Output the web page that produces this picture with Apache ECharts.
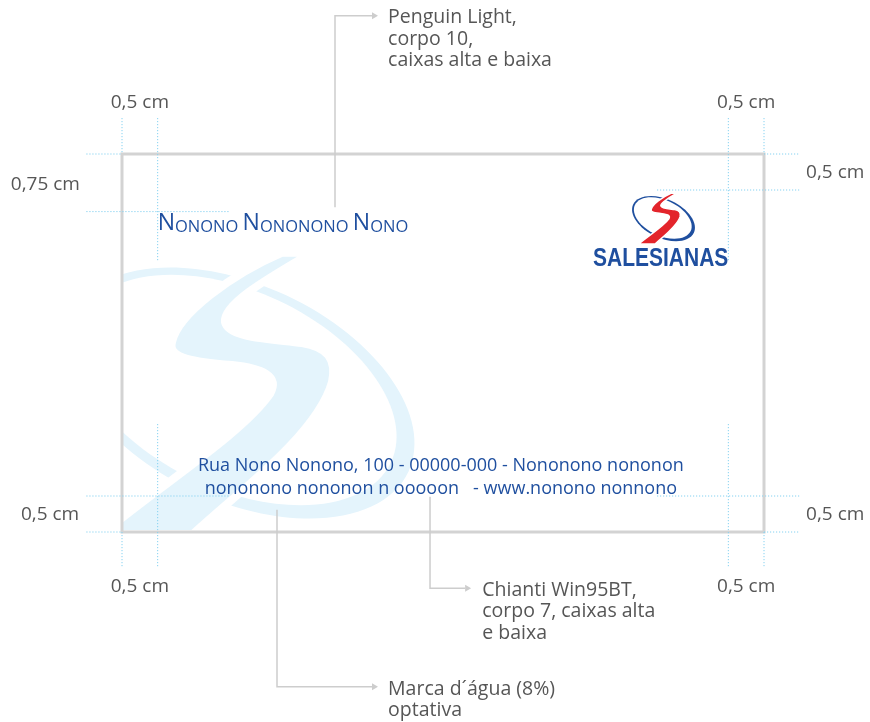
<!DOCTYPE html>
<html><head><meta charset="utf-8">
<script src="https://cdn.jsdelivr.net/npm/echarts/dist/echarts.min.js"></script>
<style>html,body{margin:0;padding:0;background:#fff}#main{width:870px;height:722px}</style>
</head><body><div id="main"></div><script>
// ---- content (values of the spec sheet) ----
const cardCm = [9, 5.25];                 // card width / height in cm
const sideMarginCm = 0.5;                 // side / bottom safety margins
const titleTopCm = 0.8;                   // guide of the name line
const logoTopCm = 0.5;                    // guide of the logo top
const guideExtCm = 0.5;                   // how far the guides run out of the card
const dimLabels = ['0,5 cm', '0,5 cm', '0,75 cm', '0,5 cm', '0,5 cm', '0,5 cm', '0,5 cm', '0,5 cm'];
const noteLabels = [
  'Penguin Light,\ncorpo 10,\ncaixas alta e baixa',
  'Chianti Win95BT,\ncorpo 7, caixas alta\ne baixa',
  'Marca d\u00b4\u00e1gua (8%)\noptativa'
];
const titleWords = ['Nonono', 'Nononono', 'Nono'];
const addressLines = [
  'Rua Nono Nonono, 100 - 00000-000 - Nononono nononon',
  'nononono nononon n ooooon   - www.nonono nonnono'
];
const logoName = 'SALESIANAS';

// ---- layout ----
const kx = 642 / 9, ky = 72;              // reference px per cm
const FONT = 'Open Sans';
const GREY = '#565656', BLUE = '#1f4f9f', RED = '#e3242b';
const WATER = '#e4f4fc', DOT = '#86d2f1', LEAD = '#cdcdcd';
const S_PATH = 'M41.7,-142.3 L71.7,-142.3 C32,-119 -18,-91 -15,-73 C-12,-57 32,-56 62,-52 C87,-48 97,-36 92,-13 C77,39 2,94 -47,139 L-138,139 C-78,89 2,39 30,-1 C40,-19 22,-27 -8,-30 C-43,-33 -73,-36 -68,-53 C-62,-81 -8,-121 41.7,-142.3 Z';

function emblem(pos, s, ringColor, sColor) {
  const rot = -25 * Math.PI / 180;
  return {
    type: 'group', x: pos[0], y: pos[1], scaleX: s, scaleY: s,
    children: [
      { type: 'ellipse', x: 0, y: -2, rotation: rot, shape: { cx: 0, cy: 0, rx: 186, ry: 108 }, style: { fill: ringColor } },
      { type: 'ellipse', x: -4, y: -5, rotation: rot, shape: { cx: 0, cy: 0, rx: 171, ry: 99 }, style: { fill: '#fff' } },
      { type: 'path', shape: { pathData: S_PATH }, style: { fill: sColor, stroke: '#fff', lineWidth: 8 } }
    ]
  };
}

function renderItem(params, api) {
  const P = (x, y) => api.coord([x, y]);
  const W = cardCm[0], H = cardCm[1], m = sideMarginCm, e = guideExtCm;
  const c0 = P(0, 0), c1 = P(W, H);
  const scale = (P(1, 0)[0] - P(0, 0)[0]) / kx;
  const cw = api.getWidth(), ch = api.getHeight();
  const ch_ = [];

  // watermark
  ch_.push(emblem(P((240 - 122) / kx, (395 - 154) / ky), scale, WATER, WATER));
  // masks outside the card
  const white = { fill: '#fff' };
  ch_.push({ type: 'rect', shape: { x: 0, y: 0, width: c0[0], height: ch }, style: white });
  ch_.push({ type: 'rect', shape: { x: c1[0], y: 0, width: cw - c1[0], height: ch }, style: white });
  ch_.push({ type: 'rect', shape: { x: 0, y: 0, width: cw, height: c0[1] }, style: white });
  ch_.push({ type: 'rect', shape: { x: 0, y: c1[1], width: cw, height: ch - c1[1] }, style: white });
  // card
  ch_.push({ type: 'rect', shape: { x: c0[0], y: c0[1], width: c1[0] - c0[0], height: c1[1] - c0[1] }, style: { fill: null, stroke: '#d3d3d3', lineWidth: 3 } });

  // dotted guides
  const dot = { stroke: DOT, lineWidth: 1, lineDash: [1.2, 1.8], fill: null };
  const seg = (a, b) => ({ type: 'line', shape: { x1: a[0], y1: a[1], x2: b[0], y2: b[1] }, style: dot });
  const vx = [[0, -e, 0], [0, H, H + e], [m, -e, 1.5], [m, H - 1.5, H + e], [W - m, -e, 1.5], [W - m, H - 1.5, H + e], [W, -e, 0], [W, H, H + e]];
  vx.forEach(v => ch_.push(seg(P(v[0], v[1]), P(v[0], v[2]))));
  const hy = [[0, -e, 0], [0, W, W + e], [titleTopCm, -e, 1.5], [logoTopCm, W - 1.5, W + e], [H - m, -e, 1.5], [H - m, W - 1.5, W + e], [H, -e, 0], [H, W, W + e]];
  hy.forEach(h => ch_.push(seg(P(h[1], h[0]), P(h[2], h[0]))));

  // dimension labels
  const txt = (p, text, o) => ({ type: 'text', x: p[0], y: p[1], style: Object.assign({ text, fill: GREY, fontSize: 19, fontFamily: FONT, align: 'left', verticalAlign: 'middle' }, o || {}) });
  const dimPos = [[m / 2, -0.72, 'center'], [W - m / 2, -0.72, 'center'], [-0.59, 0.43, 'right'], [W + 0.59, 0.26, 'left'],
                  [-0.6, 5.01, 'right'], [W + 0.59, 5.01, 'left'], [m / 2, 6.01, 'center'], [W - m / 2, 6.01, 'center']];
  dimPos.forEach((d, i) => ch_.push(txt(P(d[0], d[1]), dimLabels[i], { align: d[2] })));

  // leaders with arrow heads and notes
  const lead = { stroke: LEAD, lineWidth: 1.5, fill: null };
  const notes = [
    { pts: [[2.986, 0.74], [2.986, -1.92], [3.505, -1.92]], text: [3.73, -1.89] },
    { pts: [[4.318, 4.76], [4.318, 6.03], [4.81, 6.03]], text: [5.05, 6.06] },
    { pts: [[2.173, 4.94], [2.173, 7.40], [3.505, 7.40]], text: [3.73, 7.44] }
  ];
  notes.forEach((n, i) => {
    const pts = n.pts.map(p => P(p[0], p[1]));
    ch_.push({ type: 'polyline', shape: { points: pts }, style: lead });
    const end = pts[pts.length - 1];
    ch_.push({ type: 'polygon', shape: { points: [[end[0], end[1] - 3.5], [end[0] + 6, end[1]], [end[0], end[1] + 3.5]] }, style: { fill: LEAD } });
    const tp = P(n.text[0], n.text[1]);
    ch_.push({ type: 'text', x: tp[0], y: tp[1] - 11, style: { text: noteLabels[i], fill: GREY, fontSize: 19.5, fontFamily: FONT, lineHeight: 21.5, align: 'left', verticalAlign: 'top' } });
  });

  // name line (small caps)
  const rich = { c: { fill: BLUE, fontSize: 23, fontFamily: FONT, verticalAlign: 'bottom' }, s: { fill: BLUE, fontSize: 16.5, fontFamily: FONT, verticalAlign: 'bottom' } };
  const titleStr = titleWords.map(w => '{c|' + w[0].toUpperCase() + '}{s|' + w.slice(1).toUpperCase() + '}').join('{s| }');
  const tp = P(m, 0.97);
  ch_.push({ type: 'text', x: tp[0], y: tp[1], style: { text: titleStr, rich, align: 'left', verticalAlign: 'middle' } });

  // address
  const ay = [4.33, 4.65];
  addressLines.forEach((l, i) => ch_.push(txt(P(4.47, ay[i]), l, { fill: BLUE, fontSize: 18, align: 'center' })));

  // logo
  ch_.push(emblem(P((663.5 - 122) / kx, (219 - 154) / ky), 0.18 * scale, BLUE, RED));
  const lp = P(W - m, 1.458);
  ch_.push({ type: 'text', x: lp[0], y: lp[1], scaleX: 0.84, style: { text: logoName, fill: BLUE, fontSize: 25, fontWeight: 'bold', fontFamily: 'Liberation Sans, Arial, sans-serif', align: 'right', verticalAlign: 'middle' } });

  return { type: 'group', children: ch_ };
}

const chart = echarts.init(document.getElementById('main'));
chart.setOption({
  animation: false,
  grid: { left: 0, right: 0, top: 0, bottom: 0 },
  xAxis: { type: 'value', min: -122 / kx, max: (870 - 122) / kx, show: false },
  yAxis: { type: 'value', inverse: true, min: -154 / ky, max: (722 - 154) / ky, show: false },
  series: [{ type: 'custom', clip: false, silent: true, data: [[0, 0]], renderItem }]
});
</script></body></html>
